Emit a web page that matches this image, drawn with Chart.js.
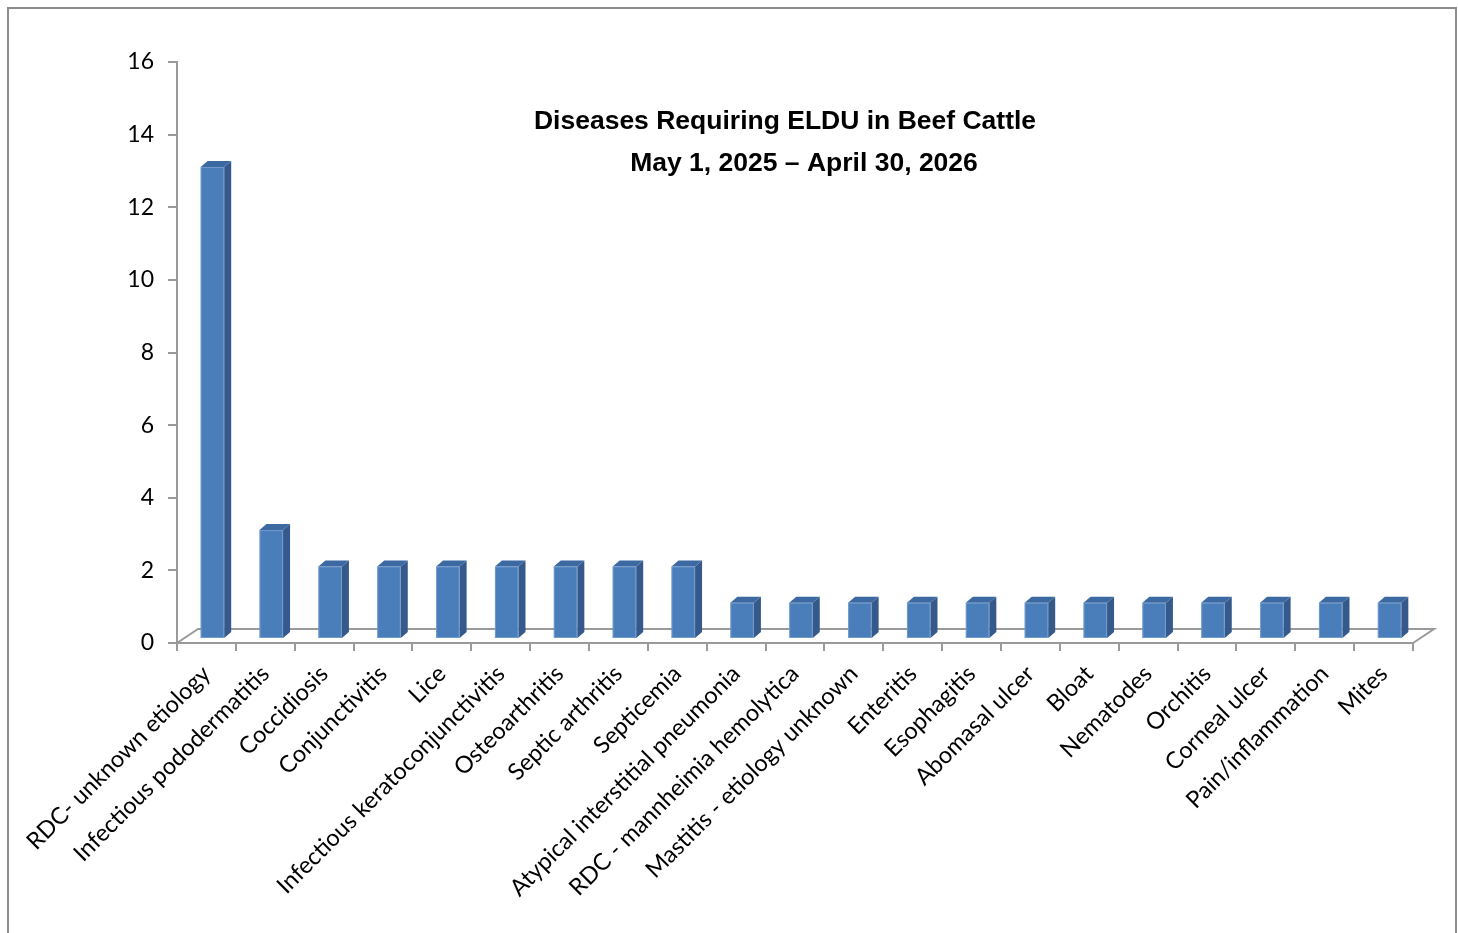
<!DOCTYPE html>
<html>
<head>
<meta charset="utf-8">
<script src="https://cdn.jsdelivr.net/npm/chart.js@4.4.1/dist/chart.umd.min.js"></script>
<style>
  html, body { margin: 0; padding: 0; background: #ffffff; overflow: hidden; }
  #wrap { position: relative; width: 1458px; height: 933px; }
  #frame { position: absolute; left: 7px; top: 7px; width: 1450px; height: 940px; border: 2px solid #8c8c8c; box-sizing: border-box; }
  canvas { position: absolute; left: 0; top: 0; }
</style>
</head>
<body>
<div id="wrap">
  <div id="frame"></div>
  <canvas id="c" width="1458" height="933"></canvas>
</div>
<script>
const titleLines = ["Diseases Requiring ELDU in Beef Cattle", "May 1, 2025 \u2013 April 30, 2026"];
const categories = [
  "RDC- unknown etiology", "Infectious pododermatitis", "Coccidiosis", "Conjunctivitis", "Lice",
  "Infectious keratoconjunctivitis", "Osteoarthritis", "Septic arthritis", "Septicemia",
  "Atypical interstitial pneumonia", "RDC - mannheimia hemolytica", "Mastitis - etiology unknown",
  "Enteritis", "Esophagitis", "Abomasal ulcer", "Bloat", "Nematodes", "Orchitis",
  "Corneal ulcer", "Pain/inflammation", "Mites"
];
const counts = [13, 3, 2, 2, 2, 2, 2, 2, 2, 1, 1, 1, 1, 1, 1, 1, 1, 1, 1, 1, 1];
const yTicks = [0, 2, 4, 6, 8, 10, 12, 14, 16];

const AXIS = '#9a9a9a';
const FRONT = '#4A7EBB';
const SIDE = '#34598a';
const TOP = '#3d69a2';
const BAR_SHIFT = {x: 6, y: -4};
const BAR_DEPTH = {x: 7, y: -6};
const FLOOR_DEPTH = {x: 21, y: -14};

const threeD = {
  id: 'threeD',
  beforeDatasetsDraw(chart) {
    const ctx = chart.ctx, a = chart.chartArea;
    const y0 = chart.scales.y.getPixelForValue(0);
    ctx.save();
    ctx.strokeStyle = AXIS;
    ctx.lineWidth = 2;
    ctx.beginPath();
    ctx.moveTo(a.left, y0);
    ctx.lineTo(a.left + FLOOR_DEPTH.x, y0 + FLOOR_DEPTH.y);
    ctx.lineTo(a.right + FLOOR_DEPTH.x, y0 + FLOOR_DEPTH.y);
    ctx.lineTo(a.right, y0);
    ctx.stroke();
    ctx.restore();
    ctx.save();
    ctx.translate(BAR_SHIFT.x, BAR_SHIFT.y);
  },
  afterDatasetsDraw(chart) {
    const ctx = chart.ctx;
    const meta = chart.getDatasetMeta(0);
    meta.data.forEach(bar => {
      const p = bar.getProps(['x', 'y', 'base', 'width'], true);
      const l = p.x - p.width / 2, r = p.x + p.width / 2;
      const t = p.y, b = p.base;
      ctx.fillStyle = SIDE;
      ctx.beginPath();
      ctx.moveTo(r, t);
      ctx.lineTo(r + BAR_DEPTH.x, t + BAR_DEPTH.y);
      ctx.lineTo(r + BAR_DEPTH.x, b + BAR_DEPTH.y);
      ctx.lineTo(r, b);
      ctx.closePath();
      ctx.fill();
      ctx.fillStyle = TOP;
      ctx.beginPath();
      ctx.moveTo(l, t);
      ctx.lineTo(l + BAR_DEPTH.x, t + BAR_DEPTH.y);
      ctx.lineTo(r + BAR_DEPTH.x, t + BAR_DEPTH.y);
      ctx.lineTo(r, t);
      ctx.closePath();
      ctx.fill();
      ctx.strokeStyle = 'rgba(140,175,215,0.6)';
      ctx.lineWidth = 1;
      ctx.strokeRect(l + 0.5, t + 0.5, p.width - 1, b - t - 1);
    });
    ctx.restore();
  },
  afterDraw(chart) {
    const ctx = chart.ctx;
    ctx.save();
    ctx.fillStyle = '#000';
    ctx.font = 'bold 26.5px "Liberation Sans", Arial, sans-serif';
    ctx.textAlign = 'center';
    ctx.textBaseline = 'middle';
    ctx.fillText(titleLines[0], 785, 122);
    ctx.fillText(titleLines[1], 804, 164);
    ctx.restore();
  }
};

new Chart(document.getElementById('c'), {
  type: 'bar',
  data: {
    labels: categories,
    datasets: [{
      data: counts,
      backgroundColor: FRONT,
      borderWidth: 0,
      barPercentage: 0.4,
      categoryPercentage: 1.0
    }]
  },
  options: {
    responsive: false,
    animation: false,
    devicePixelRatio: 1,
    layout: { padding: { left: 0, top: 62, right: 45, bottom: 0 } },
    plugins: { legend: { display: false }, tooltip: { enabled: false }, title: { display: false } },
    scales: {
      x: {
        grid: { display: true, offset: true, drawOnChartArea: false, drawTicks: true, tickLength: 8, color: AXIS, lineWidth: 2 },
        border: { display: true, color: AXIS, width: 2 },
        ticks: {
          autoSkip: false, maxRotation: 45, minRotation: 45, padding: 9,
          color: '#000', font: { family: 'Lato, "Open Sans", sans-serif', size: 23.5 }
        },
        afterFit(s) { s.height = 290; }
      },
      y: {
        min: 0, max: 16,
        afterBuildTicks(s) { s.ticks = yTicks.map(v => ({ value: v })); },
        grid: { display: true, drawOnChartArea: false, drawTicks: true, tickLength: 9, color: AXIS, lineWidth: 2 },
        border: { display: true, color: AXIS, width: 2 },
        ticks: { padding: 14, color: '#000', font: { family: 'Lato, "Open Sans", sans-serif', size: 23 } },
        afterFit(s) { s.width = 177; }
      }
    }
  },
  plugins: [threeD]
});
</script>
</body>
</html>
